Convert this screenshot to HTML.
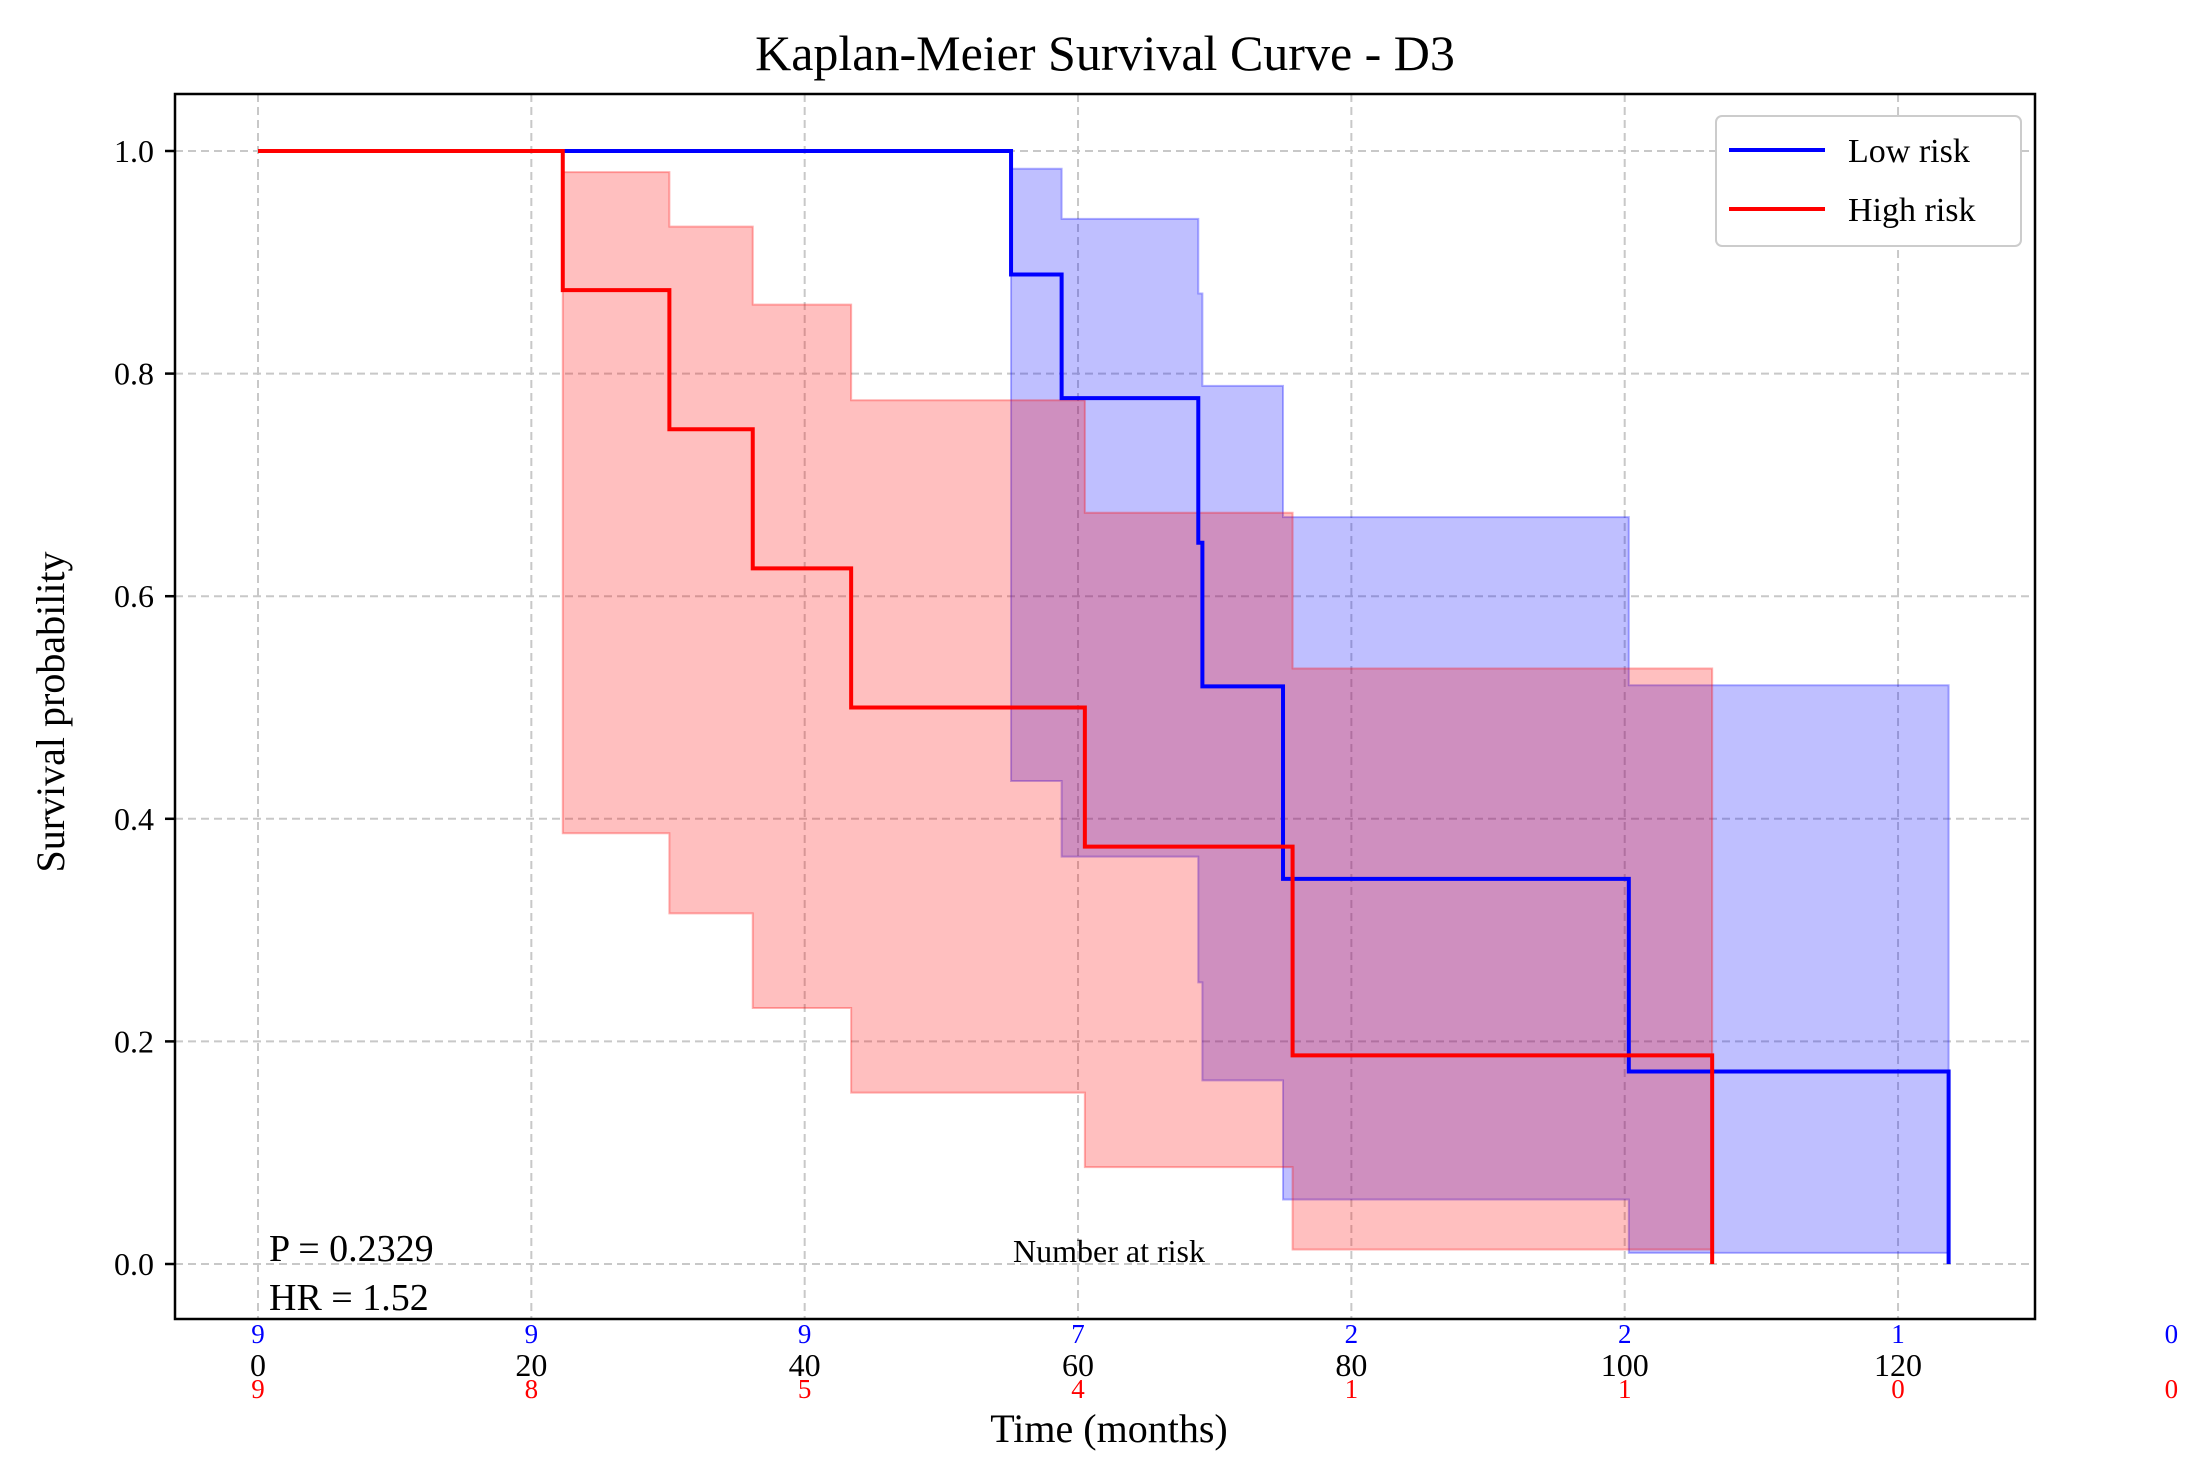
<!DOCTYPE html>
<html><head><meta charset="utf-8"><style>
body{margin:0;background:#fff}
svg{display:block;font-family:"Liberation Serif",serif}
</style></head><body>
<svg id="chart" width="2208" height="1479" xmlns="http://www.w3.org/2000/svg">
<text x="1105" y="70" font-size="50" text-anchor="middle">Kaplan-Meier Survival Curve - D3</text>
<text x="0" y="0" font-size="40" text-anchor="middle" transform="translate(64,712) rotate(-90)">Survival probability</text>
<text x="1109" y="1442" font-size="40" text-anchor="middle">Time (months)</text>
<g id="grid"></g><g id="ci"></g><g id="lines"></g><g id="axes"></g>
<text x="269" y="1261" font-size="38">P = 0.2329</text>
<text x="269" y="1310" font-size="38">HR = 1.52</text>
<text x="1109" y="1262" font-size="32" text-anchor="middle">Number at risk</text>
<g>
<rect x="1716" y="116" width="305" height="130" rx="6" fill="#fff" stroke="#ccc" stroke-width="2"/>
<line x1="1729" y1="150" x2="1825" y2="150" stroke="#0000ff" stroke-width="4"/>
<text x="1848" y="162" font-size="34">Low risk</text>
<line x1="1729" y1="209" x2="1825" y2="209" stroke="#ff0000" stroke-width="4"/>
<text x="1848" y="221" font-size="34">High risk</text>
</g>
</svg>
<script>
const lowTimes=[0,55.1,58.8,68.8,69.1,75.0,100.3,123.7];
const lowSurv=[1,0.889,0.778,0.648,0.519,0.346,0.173,0];
const lowUpper=[null,0.984,0.939,0.872,0.789,0.671,0.520];
const lowLower=[null,0.434,0.366,0.253,0.165,0.058,0.010];
const highTimes=[0,22.3,30.1,36.2,43.4,60.5,75.7,106.4];
const highSurv=[1,0.875,0.75,0.625,0.5,0.375,0.1875,0];
const highUpper=[null,0.981,0.932,0.862,0.776,0.675,0.535];
const highLower=[null,0.387,0.315,0.230,0.154,0.087,0.013];
const xTicks=[0,20,40,60,80,100,120];
const yTicks=[0,0.2,0.4,0.6,0.8,1.0];
const riskTimes=[0,20,40,60,80,100,120,140];
const lowRisk=[9,9,9,7,2,2,1,0];
const highRisk=[9,8,5,4,1,1,0,0];
const X=t=>258+t*13.667, Y=v=>1264-v*1113;
const NS="http://www.w3.org/2000/svg";
function mk(tag,attrs,parent){const e=document.createElementNS(NS,tag);for(const k in attrs)e.setAttribute(k,attrs[k]);document.getElementById(parent).appendChild(e);return e;}
xTicks.forEach(t=>{const l=mk('line',{x1:X(t),x2:X(t),y1:94,y2:1319,stroke:'#c8c8c8','stroke-width':2,'stroke-dasharray':'8,5'},'grid');

});
yTicks.forEach(v=>{const l=mk('line',{x1:175,x2:2035,y1:Y(v),y2:Y(v),stroke:'#c8c8c8','stroke-width':2,'stroke-dasharray':'8,5'},'grid');

});
function ciPath(times,up,lo){const n=up.length;let top=[],bot=[];
for(let i=1;i<n;i++){const x0=X(times[i]),x1=X(times[i+1]);top.push(`${x0},${Y(up[i])}`,`${x1},${Y(up[i])}`);bot.push(`${x0},${Y(lo[i])}`,`${x1},${Y(lo[i])}`);}
return 'M'+top.join(' L')+' L'+bot.reverse().join(' L')+'Z';}
function survPath(times,s){let d=`M${X(times[0])},${Y(s[0])}`;for(let i=1;i<times.length;i++){d+=` L${X(times[i])},${Y(s[i-1])} L${X(times[i])},${Y(s[i])}`;}return d;}
let c=mk('path',{d:ciPath(lowTimes,lowUpper,lowLower),fill:'rgba(0,0,255,0.25)',stroke:'rgba(0,0,255,0.3)','stroke-width':2},'ci');


c=mk('path',{d:ciPath(highTimes,highUpper,highLower),fill:'rgba(255,0,0,0.25)',stroke:'rgba(255,0,0,0.3)','stroke-width':2},'ci');


let p=mk('path',{d:survPath(lowTimes,lowSurv),fill:'none',stroke:'#0000ff','stroke-width':4},'lines');


p=mk('path',{d:survPath(highTimes,highSurv),fill:'none',stroke:'#ff0000','stroke-width':4},'lines');


const fr=mk('rect',{x:175,y:94,width:1860,height:1225,fill:'none',stroke:'#000','stroke-width':2.5},'axes');


yTicks.forEach(v=>{mk('line',{x1:165,x2:175,y1:Y(v),y2:Y(v),stroke:'#000','stroke-width':2.5},'axes');
const t=mk('text',{x:154,y:Y(v)+11,'font-size':32,'text-anchor':'end'},'axes');t.textContent=v.toFixed(1);

});
xTicks.forEach(v=>{const t=mk('text',{x:X(v),y:1376,'font-size':32,'text-anchor':'middle'},'axes');t.textContent=v;

});
riskTimes.forEach((v,i)=>{let t=mk('text',{x:X(v),y:1343,'font-size':27,'text-anchor':'middle',fill:'#0000ff'},'axes');t.textContent=lowRisk[i];


t=mk('text',{x:X(v),y:1398,'font-size':27,'text-anchor':'middle',fill:'#ff0000'},'axes');t.textContent=highRisk[i];

});
</script>
</body></html>
